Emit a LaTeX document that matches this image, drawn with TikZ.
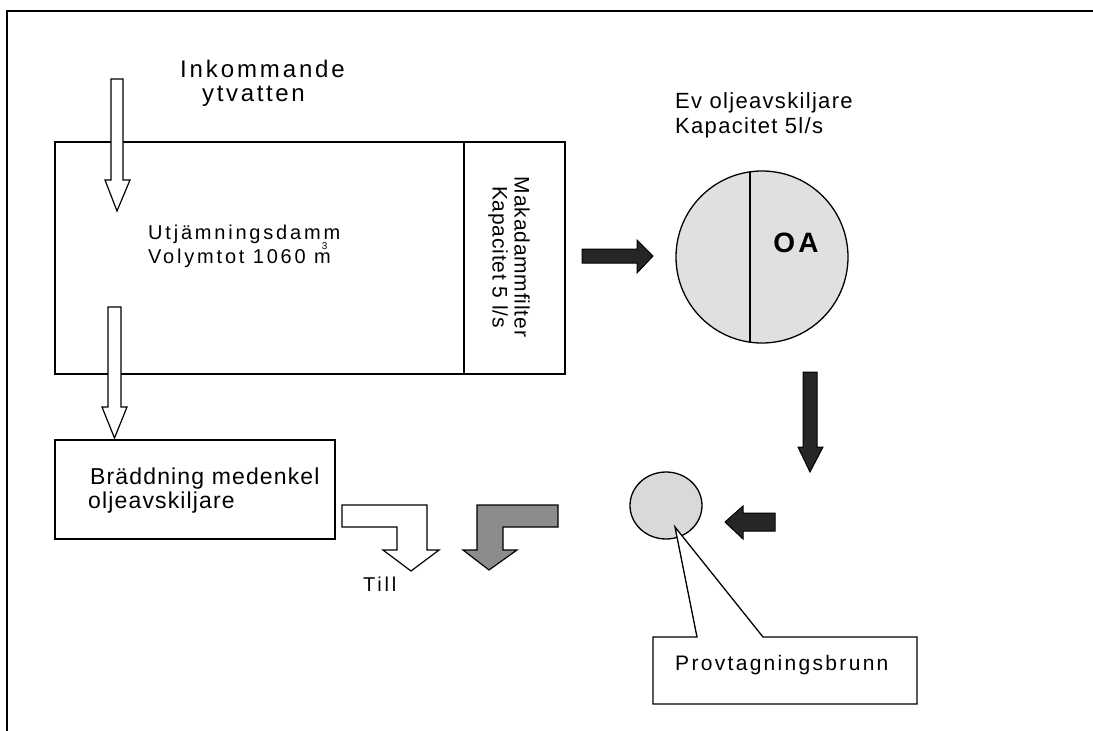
\documentclass[tikz,border=0pt]{standalone}
\usepackage{fontspec}
\setmainfont{Liberation Sans}
\usetikzlibrary{shapes.geometric}
\newcommand\myfs[2]{\fontsize{#1}{#1}\selectfont\addfontfeature{LetterSpace=#2}}
\tikzset{
  lbl/.style={inner sep=0pt, anchor=base west},
  frame/.style={draw=black, line width=1.5pt},
  outline/.style={draw=black, line width=1.3pt},
  boxn/.style={draw=black, line width=1.3pt, inner sep=0pt},
  blockw/.style={draw=black, line width=1.2pt, fill=white, line join=miter},
  blockd/.style={draw=black, line width=1pt, fill=black!85, line join=miter},
  blockg/.style={draw=black, line width=1.2pt, fill=black!45, line join=miter},
}
\begin{document}
\begin{tikzpicture}[x=1pt,y=-1pt]
\useasboundingbox (0,0) rectangle (1093,731);
% outer frame (partly visible)
\draw[frame] (7,731) -- (7,11) -- (1093,11);

% main pond box
\node[boxn, minimum width=510pt, minimum height=232pt] (pond) at (310,258) {};
\draw[outline] (464,142) -- (464,374);
\node[inner sep=0pt, rotate=-90, align=center, font={\fontsize{21}{22}\selectfont\addfontfeature{LetterSpace=4}}] (filter) at (509,257) {Makadammfilter\\Kapacitet 5 l/s};

% texts
\node[lbl, font=\myfs{24}{12}] (ink1) at (180,77) {Inkommande};
\node[lbl, font=\myfs{24}{11}] (ink2) at (202,101) {ytvatten};
\node[lbl, font=\myfs{20}{14}] (ut1) at (148,239) {Utjämningsdamm};
\node[lbl, font=\myfs{20}{14}] (ut2) at (148,263) {Volymtot 1060 m\kern-0.45em\raisebox{0.66em}{\fontsize{10}{10}\selectfont 3}\kern0.25em};

% inlet arrow
\draw[blockw] (111,79) -- (123,79) -- (123,180) -- (130,180) -- (117,211) -- (105,180) -- (111,180) -- cycle;

% overflow arrow to Braddning
\draw[blockw] (108,307) -- (121,307) -- (121,407) -- (127,407) -- (114.5,438) -- (102,407) -- (108,407) -- cycle;

% Braddning box
\node[boxn, minimum width=280pt, minimum height=99pt] (bradd) at (195,489.5) {};
\node[lbl, font=\myfs{23}{5}] (br1) at (90,484) {Bräddning medenkel};
\node[lbl, font=\myfs{23}{5}] (br2) at (88,508) {oljeavskiljare};

% dark arrow to OA
\draw[blockd] (582,249) -- (637,249) -- (637,240) -- (653,256) -- (637,273) -- (637,263) -- (582,263) -- cycle;

% OA circle
\node[circle, draw=black, line width=1.3pt, fill=black!12, minimum size=172pt, inner sep=0pt] (oa) at (762,257) {};
\draw[outline] (750,171.8) -- (750,342.2);
\node[inner sep=0pt, font={\fontsize{28}{28}\selectfont\bfseries\addfontfeature{LetterSpace=12}}] (oatxt) at (796,243) {OA};

\node[lbl, font=\myfs{22}{6}] (ev1) at (675,108) {Ev oljeavskiljare};
\node[lbl, font=\myfs{22}{6}] (ev2) at (675,133) {Kapacitet 5l/s};

% dark arrow down
\draw[blockd] (803,372) -- (817,372) -- (817,447) -- (823,447) -- (810,472) -- (798,447) -- (803,447) -- cycle;

% sampling well
\node[ellipse, draw=black, line width=1.3pt, fill=black!15, minimum width=72pt, minimum height=67pt, inner sep=0pt] (well) at (666,505.5) {};
\draw[blockd] (775,513) -- (743,513) -- (743,506) -- (725,522) -- (743,539) -- (743,531) -- (775,531) -- cycle;

% callout
\draw[outline, fill=white, line join=miter] (653,637) -- (697,637) -- (675,527) -- (763,637) -- (917,637) -- (917,704) -- (653,704) -- cycle;
\node[lbl, font=\myfs{21}{11}] (prov) at (675,670) {Provtagningsbrunn};

% outlet L arrows
\draw[blockw] (342,505) -- (427,505) -- (427,550) -- (439,550) -- (411,571) -- (383,550) -- (397,550) -- (397,527) -- (342,527) -- cycle;
\draw[blockg] (477,505) -- (558,505) -- (558,527) -- (503,527) -- (503,550) -- (517,550) -- (489,570) -- (463,550) -- (477,550) -- cycle;

\node[lbl, font=\myfs{20}{14}] (till) at (363,591) {Till};
\end{tikzpicture}
\end{document}
